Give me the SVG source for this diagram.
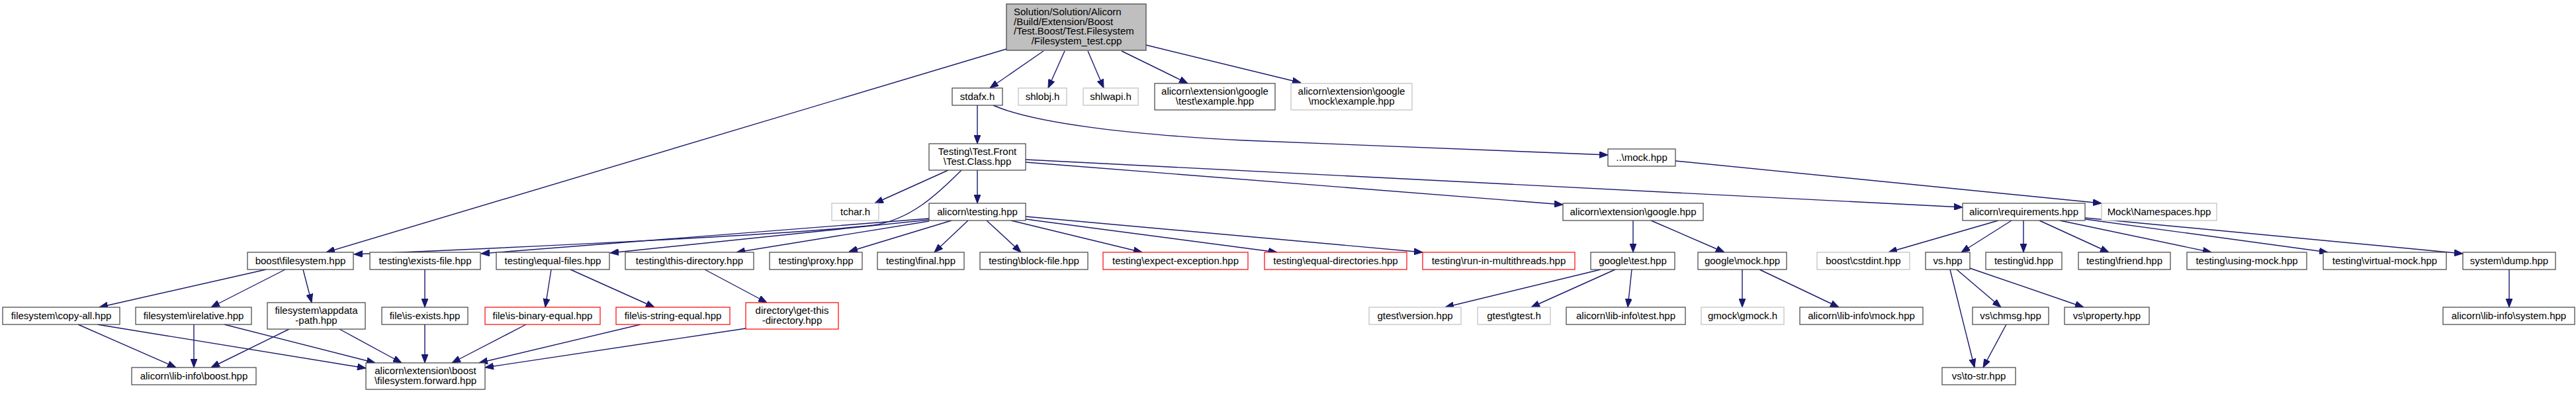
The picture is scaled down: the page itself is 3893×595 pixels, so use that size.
<svg xmlns="http://www.w3.org/2000/svg" width="3893" height="595" viewBox="0 0 3893 595">
<style>
rect{fill:#fff;stroke:#404040;stroke-width:1.2}
.g rect{stroke:#bfbfbf}
.r rect{stroke:#ff0000}
.root rect{fill:#bfbfbf;stroke:#404040}
text{font-family:"Liberation Sans",Arial,sans-serif;font-size:15px;fill:#000;text-anchor:middle}
.l{text-anchor:start}
#edges path{fill:none;stroke:#191970;stroke-width:1.4;marker-end:url(#ah)}
</style>
<defs>
<marker id="ah" markerUnits="userSpaceOnUse" viewBox="0 0 13 10" refX="13" refY="5" markerWidth="13" markerHeight="10" orient="auto">
<path d="M0,0 L13,5 L0,10 z" fill="#191970" stroke="#191970"/>
</marker>
</defs>
<rect x="0" y="0" width="3893" height="595" style="fill:#fff;stroke:none"/>
<g id="edges">
<path d="M1521,74 L493,381"/>
<path d="M1577,77 L1496,133"/>
<path d="M1609,77 L1584,133"/>
<path d="M1644,77 L1668,133"/>
<path d="M1695,77 L1795,126"/>
<path d="M1732,68 L1966,125"/>
<path d="M1477,159 L1477,217"/>
<path d="M1501,159 C1560,185 1700,203 1880,212 C2100,222 2300,230 2430,234"/>
<path d="M1433,257 L1322,307"/>
<path d="M1477,257 L1477,307"/>
<path d="M1453,257 C1415,295 1375,332 1320,340 C1200,354 800,373 535,384"/>
<path d="M1550,245 L2362,309"/>
<path d="M1550,241 L2966,313"/>
<path d="M2532,243 L3176,307"/>
<path d="M1404,330 L727,383"/>
<path d="M1404,332 L922,382"/>
<path d="M1404,334 L1113,381"/>
<path d="M1438,333 L1283,380"/>
<path d="M1463,333 L1412,381"/>
<path d="M1491,333 L1543,381"/>
<path d="M1528,333 L1726,381"/>
<path d="M1550,331 L1930,381"/>
<path d="M1550,327 L2150,381"/>
<path d="M402,407 L150,464"/>
<path d="M431,407 L319,464"/>
<path d="M458,407 L471,457"/>
<path d="M118,490 L266,555"/>
<path d="M147,490 L553,556"/>
<path d="M293,490 L293,555"/>
<path d="M339,490 L567,548"/>
<path d="M437,497 L319,555"/>
<path d="M513,497 L607,548"/>
<path d="M642,407 L642,464"/>
<path d="M642,490 L642,548"/>
<path d="M833,407 L824,464"/>
<path d="M862,407 L989,464"/>
<path d="M1065,407 L1159,457"/>
<path d="M795,490 L683,548"/>
<path d="M968,490 L724,548"/>
<path d="M1127,496 L733,555"/>
<path d="M2468,333 L2468,381"/>
<path d="M2495,333 L2606,381"/>
<path d="M2419,407 L2184,464"/>
<path d="M2441,407 L2314,464"/>
<path d="M2466,407 L2460,464"/>
<path d="M2633,407 L2633,464"/>
<path d="M2659,407 L2779,464"/>
<path d="M3020,333 L2854,381"/>
<path d="M3040,333 L2964,381"/>
<path d="M3058,333 L3058,381"/>
<path d="M3082,333 L3187,381"/>
<path d="M3113,333 L3342,381"/>
<path d="M3151,331 L3518,381"/>
<path d="M3151,329 L3722,383"/>
<path d="M2957,407 L3024,464"/>
<path d="M2977,405 L3149,464"/>
<path d="M2947,407 L2984,555"/>
<path d="M3032,490 L2997,555"/>
<path d="M3792,407 L3792,464"/>
</g>
<g id="n_root" class="root"><rect x="1521" y="6" width="211" height="70"/><text class="l" x="1532" y="23">Solution/Solution/Alicorn</text><text class="l" x="1532" y="38">/Build/Extension/Boost</text><text class="l" x="1532" y="52">/Test.Boost/Test.Filesystem</text><text x="1627" y="67">/Filesystem_test.cpp</text></g>
<g id="n_stdafx"><rect x="1439" y="133" width="76" height="26"/><text x="1477" y="151">stdafx.h</text></g>
<g id="n_shlobj" class="g"><rect x="1539" y="133" width="73" height="26"/><text x="1575.5" y="151">shlobj.h</text></g>
<g id="n_shlwapi" class="g"><rect x="1637" y="133" width="83" height="26"/><text x="1678.5" y="151">shlwapi.h</text></g>
<g id="n_gtestex"><rect x="1745" y="126" width="182" height="40"/><text x="1836" y="143">alicorn\extension\google</text><text x="1836" y="158">\test\example.hpp</text></g>
<g id="n_gmockex" class="g"><rect x="1951" y="126" width="183" height="40"/><text x="2042.5" y="143">alicorn\extension\google</text><text x="2042.5" y="158">\mock\example.hpp</text></g>
<g id="n_testclass"><rect x="1404" y="217" width="146" height="40"/><text x="1477" y="234">Testing\Test.Front</text><text x="1477" y="249">\Test.Class.hpp</text></g>
<g id="n_mock"><rect x="2430" y="225" width="102" height="26"/><text x="2481" y="243">..\mock.hpp</text></g>
<g id="n_tchar" class="g"><rect x="1257" y="307" width="71" height="26"/><text x="1292.5" y="325">tchar.h</text></g>
<g id="n_testing"><rect x="1404" y="307" width="146" height="26"/><text x="1477" y="325">alicorn\testing.hpp</text></g>
<g id="n_google"><rect x="2362" y="307" width="212" height="26"/><text x="2468" y="325">alicorn\extension\google.hpp</text></g>
<g id="n_requirements"><rect x="2966" y="307" width="185" height="26"/><text x="3058.5" y="325">alicorn\requirements.hpp</text></g>
<g id="n_namespaces" class="g"><rect x="3176" y="307" width="174" height="26"/><text x="3263" y="325">Mock\Namespaces.hpp</text></g>
<g id="n_boostfs"><rect x="374" y="381" width="160" height="26"/><text x="454" y="399">boost\filesystem.hpp</text></g>
<g id="n_existsfile"><rect x="559" y="381" width="167" height="26"/><text x="642.5" y="399">testing\exists-file.hpp</text></g>
<g id="n_equalfiles"><rect x="750" y="381" width="171" height="26"/><text x="835.5" y="399">testing\equal-files.hpp</text></g>
<g id="n_thisdir"><rect x="945" y="381" width="194" height="26"/><text x="1042" y="399">testing\this-directory.hpp</text></g>
<g id="n_proxy"><rect x="1163" y="381" width="140" height="26"/><text x="1233" y="399">testing\proxy.hpp</text></g>
<g id="n_final"><rect x="1326" y="381" width="131" height="26"/><text x="1391.5" y="399">testing\final.hpp</text></g>
<g id="n_blockfile"><rect x="1481" y="381" width="163" height="26"/><text x="1562.5" y="399">testing\block-file.hpp</text></g>
<g id="n_expect" class="r"><rect x="1667" y="381" width="219" height="26"/><text x="1776.5" y="399">testing\expect-exception.hpp</text></g>
<g id="n_equaldirs" class="r"><rect x="1911" y="381" width="215" height="26"/><text x="2018.5" y="399">testing\equal-directories.hpp</text></g>
<g id="n_runmt" class="r"><rect x="2150" y="381" width="230" height="26"/><text x="2265" y="399">testing\run-in-multithreads.hpp</text></g>
<g id="n_googletest"><rect x="2404" y="381" width="127" height="26"/><text x="2467.5" y="399">google\test.hpp</text></g>
<g id="n_googlemock"><rect x="2566" y="381" width="134" height="26"/><text x="2633" y="399">google\mock.hpp</text></g>
<g id="n_cstdint" class="g"><rect x="2746" y="381" width="140" height="26"/><text x="2816" y="399">boost\cstdint.hpp</text></g>
<g id="n_vs"><rect x="2910" y="381" width="67" height="26"/><text x="2943.5" y="399">vs.hpp</text></g>
<g id="n_id"><rect x="3001" y="381" width="115" height="26"/><text x="3058.5" y="399">testing\id.hpp</text></g>
<g id="n_friend"><rect x="3141" y="381" width="139" height="26"/><text x="3210.5" y="399">testing\friend.hpp</text></g>
<g id="n_usingmock"><rect x="3305" y="381" width="181" height="26"/><text x="3395.5" y="399">testing\using-mock.hpp</text></g>
<g id="n_virtualmock"><rect x="3511" y="381" width="186" height="26"/><text x="3604" y="399">testing\virtual-mock.hpp</text></g>
<g id="n_dump"><rect x="3722" y="381" width="140" height="26"/><text x="3792" y="399">system\dump.hpp</text></g>
<g id="n_copyall"><rect x="4" y="464" width="177" height="26"/><text x="92.5" y="482">filesystem\copy-all.hpp</text></g>
<g id="n_irelative"><rect x="205" y="464" width="175" height="26"/><text x="292.5" y="482">filesystem\irelative.hpp</text></g>
<g id="n_appdata"><rect x="404" y="457" width="148" height="40"/><text x="478" y="474">filesystem\appdata</text><text x="478" y="489">-path.hpp</text></g>
<g id="n_isexists"><rect x="577" y="464" width="130" height="26"/><text x="642" y="482">file\is-exists.hpp</text></g>
<g id="n_isbinary" class="r"><rect x="733" y="464" width="174" height="26"/><text x="820" y="482">file\is-binary-equal.hpp</text></g>
<g id="n_isstring" class="r"><rect x="931" y="464" width="172" height="26"/><text x="1017" y="482">file\is-string-equal.hpp</text></g>
<g id="n_getthisdir" class="r"><rect x="1127" y="457" width="140" height="40"/><text x="1197" y="474">directory\get-this</text><text x="1197" y="489">-directory.hpp</text></g>
<g id="n_gtestversion" class="g"><rect x="2069" y="464" width="139" height="26"/><text x="2138.5" y="482">gtest\version.hpp</text></g>
<g id="n_gtesth" class="g"><rect x="2233" y="464" width="110" height="26"/><text x="2288" y="482">gtest\gtest.h</text></g>
<g id="n_libtest"><rect x="2367" y="464" width="180" height="26"/><text x="2457" y="482">alicorn\lib-info\test.hpp</text></g>
<g id="n_gmockh" class="g"><rect x="2571" y="464" width="125" height="26"/><text x="2633.5" y="482">gmock\gmock.h</text></g>
<g id="n_libmock"><rect x="2720" y="464" width="186" height="26"/><text x="2813" y="482">alicorn\lib-info\mock.hpp</text></g>
<g id="n_chmsg"><rect x="2981" y="464" width="115" height="26"/><text x="3038.5" y="482">vs\chmsg.hpp</text></g>
<g id="n_property"><rect x="3120" y="464" width="128" height="26"/><text x="3184" y="482">vs\property.hpp</text></g>
<g id="n_libsystem"><rect x="3692" y="464" width="199" height="26"/><text x="3791.5" y="482">alicorn\lib-info\system.hpp</text></g>
<g id="n_libboost"><rect x="199" y="555" width="188" height="26"/><text x="293" y="573">alicorn\lib-info\boost.hpp</text></g>
<g id="n_fsforward"><rect x="553" y="548" width="180" height="40"/><text x="643" y="565">alicorn\extension\boost</text><text x="643" y="580">\filesystem.forward.hpp</text></g>
<g id="n_tostr"><rect x="2935" y="555" width="111" height="26"/><text x="2990.5" y="573">vs\to-str.hpp</text></g>
</svg>
